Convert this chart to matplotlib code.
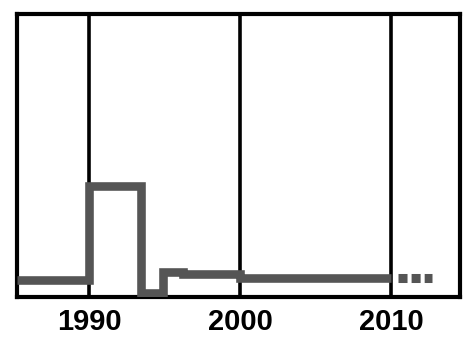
import matplotlib
matplotlib.use("Agg")
import matplotlib.pyplot as plt

# step series (x = start of each level)
years = [1985.2, 1990.0, 1993.4, 1994.85, 1996.2, 2000.0, 2010.0]
values = [6.0, 39.4, 1.4, 9.0, 8.1, 6.9, 6.9]

# projected (dashed) part
proj_years = [2010.47, 2012.75]
proj_values = [6.9, 6.9]

tick_years = [1990, 2000, 2010]
tick_labels = ["1990", "2000", "2010"]

fig = plt.figure(figsize=(4.73, 3.5), dpi=100)
ax = fig.add_axes([0.036, 0.151, 0.937, 0.809])

for t in tick_years:
    ax.axvline(t, color="black", lw=2.6, zorder=1)

ax.step(years, values, where="post", color="#555555", lw=6.2,
        solid_joinstyle="miter", solid_capstyle="butt", zorder=3)
ax.plot(proj_years, proj_values, color="#555555", lw=6.5,
        dashes=(1.0, 0.45), dash_capstyle="butt", zorder=3)

ax.set_xlim(1985.2, 2014.6)
ax.set_ylim(0, 100)
ax.set_yticks([])
ax.set_xticks(tick_years)
ax.set_xticklabels(tick_labels, fontfamily="Liberation Sans", fontweight="bold", fontsize=21)
ax.tick_params(axis="x", length=0, pad=8)
for s in ax.spines.values():
    s.set_linewidth(3.0)
    s.set_color("black")

fig.savefig("out.png", dpi=100)
